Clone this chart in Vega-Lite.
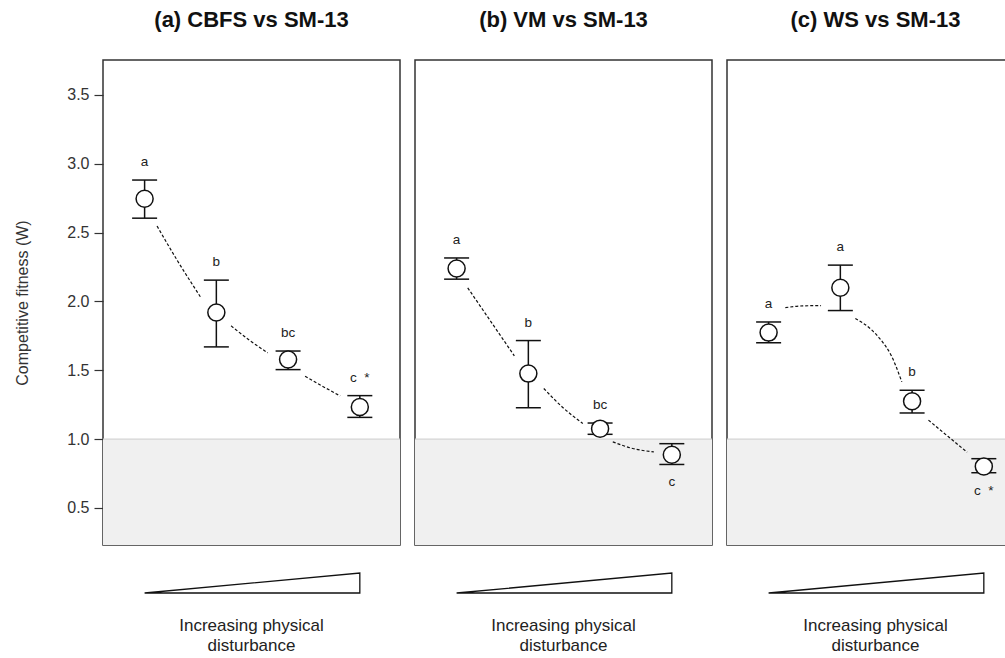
{
  "$schema": "https://vega.github.io/schema/vega-lite/v6.json",
  "padding": {"left": 14, "top": 8, "right": 0, "bottom": 0},
  "background": "white",
  "config": {
    "font": "Liberation Sans",
    "view": {"stroke": "#333333", "strokeWidth": 1.5},
    "title": {"fontSize": 22, "fontWeight": "bold", "color": "#111111", "offset": 28}
  },
  "datasets": {
    "points": [
      {"panel": "a", "x": 1, "y": 2.746, "lo": 2.605, "hi": 2.882, "label": "a", "pos": "above"},
      {"panel": "a", "x": 2, "y": 1.92, "lo": 1.67, "hi": 2.155, "label": "b", "pos": "above"},
      {"panel": "a", "x": 3, "y": 1.578, "lo": 1.505, "hi": 1.64, "label": "bc", "pos": "above"},
      {"panel": "a", "x": 4, "y": 1.233, "lo": 1.158, "hi": 1.316, "label": "c\u00a0 *", "pos": "above"},
      {"panel": "b", "x": 1, "y": 2.24, "lo": 2.162, "hi": 2.316, "label": "a", "pos": "above"},
      {"panel": "b", "x": 2, "y": 1.476, "lo": 1.228, "hi": 1.716, "label": "b", "pos": "above"},
      {"panel": "b", "x": 3, "y": 1.076, "lo": 1.035, "hi": 1.117, "label": "bc", "pos": "above"},
      {"panel": "b", "x": 4, "y": 0.887, "lo": 0.816, "hi": 0.967, "label": "c", "pos": "below"},
      {"panel": "c", "x": 1, "y": 1.774, "lo": 1.7, "hi": 1.851, "label": "a", "pos": "above"},
      {"panel": "c", "x": 2, "y": 2.1, "lo": 1.934, "hi": 2.264, "label": "a", "pos": "above"},
      {"panel": "c", "x": 3, "y": 1.275, "lo": 1.19, "hi": 1.355, "label": "b", "pos": "above"},
      {"panel": "c", "x": 4, "y": 0.802, "lo": 0.756, "hi": 0.858, "label": "c\u00a0 *", "pos": "below"}
    ],
    "curves": [
      {"panel": "a", "seg": 1, "x": 1.173, "y": 2.548},
      {"panel": "a", "seg": 1, "x": 1.452, "y": 2.301},
      {"panel": "a", "seg": 1, "x": 1.777, "y": 2.034},
      {"panel": "a", "seg": 2, "x": 2.205, "y": 1.823},
      {"panel": "a", "seg": 2, "x": 2.46, "y": 1.719},
      {"panel": "a", "seg": 2, "x": 2.717, "y": 1.627},
      {"panel": "a", "seg": 3, "x": 3.237, "y": 1.457},
      {"panel": "a", "seg": 3, "x": 3.484, "y": 1.383},
      {"panel": "a", "seg": 3, "x": 3.726, "y": 1.314},
      {"panel": "b", "seg": 1, "x": 1.155, "y": 2.099},
      {"panel": "b", "seg": 1, "x": 1.48, "y": 1.852},
      {"panel": "b", "seg": 1, "x": 1.805, "y": 1.605},
      {"panel": "b", "seg": 2, "x": 2.215, "y": 1.368},
      {"panel": "b", "seg": 2, "x": 2.48, "y": 1.23},
      {"panel": "b", "seg": 2, "x": 2.759, "y": 1.114},
      {"panel": "b", "seg": 3, "x": 3.177, "y": 0.98},
      {"panel": "b", "seg": 3, "x": 3.456, "y": 0.932},
      {"panel": "b", "seg": 3, "x": 3.749, "y": 0.907},
      {"panel": "c", "seg": 1, "x": 1.233, "y": 1.955},
      {"panel": "c", "seg": 1, "x": 1.476, "y": 1.968},
      {"panel": "c", "seg": 1, "x": 1.731, "y": 1.97},
      {"panel": "c", "seg": 2, "x": 2.209, "y": 1.877},
      {"panel": "c", "seg": 2, "x": 2.428, "y": 1.797},
      {"panel": "c", "seg": 2, "x": 2.568, "y": 1.719},
      {"panel": "c", "seg": 2, "x": 2.707, "y": 1.61},
      {"panel": "c", "seg": 2, "x": 2.857, "y": 1.416},
      {"panel": "c", "seg": 3, "x": 3.228, "y": 1.138},
      {"panel": "c", "seg": 3, "x": 3.498, "y": 1.021},
      {"panel": "c", "seg": 3, "x": 3.767, "y": 0.905}
    ],
    "wedge": [
      {"x": 1, "y": 0},
      {"x": 4, "y": 1}
    ],
    "ref": [
      {"threshold": 1}
    ]
  },
  "spacing": 11,
  "hconcat": [
    {
      "spacing": 24,
      "vconcat": [
        {
          "title": "(a) CBFS vs SM-13",
          "width": 297,
          "height": 485,
          "layer": [
            {"data": {"name": "ref"}, "mark": {"type": "rect", "color": "#f0f0f0"},
              "encoding": {
                "x": {"datum": 0.42, "type": "quantitative", "scale": {"domain": [0.42, 4.56], "nice": false, "zero": false}, "axis": null},
                "x2": {"datum": 4.56},
                "y": {"field": "threshold", "type": "quantitative", "scale": {"domain": [0.231, 3.754], "nice": false, "zero": false},
                  "axis": {"title": "Competitive fitness (W)", "values": [0.5, 1, 1.5, 2, 2.5, 3, 3.5], "format": ".1f", "domain": false, "grid": false,
                    "tickSize": 9, "tickColor": "#333333", "tickWidth": 1.2, "labelFontSize": 16, "labelColor": "#333333", "labelPadding": 5,
                    "titleFontSize": 16, "titleFontWeight": "normal", "titleColor": "#333333", "titlePadding": 36}},
                "y2": {"datum": 0.231}}},
            {"data": {"name": "ref"}, "mark": {"type": "rule", "color": "#d4d4d4", "strokeWidth": 1.2},
              "encoding": {"y": {"field": "threshold", "type": "quantitative"}}},
            {"data": {"name": "curves"}, "transform": [{"filter": "datum.panel == 'a'"}],
              "mark": {"type": "line", "color": "#111111", "strokeWidth": 1.2, "strokeDash": [3, 2], "interpolate": "monotone"},
              "encoding": {"x": {"field": "x", "type": "quantitative"}, "y": {"field": "y", "type": "quantitative"}, "detail": {"field": "seg"}}},
            {"data": {"name": "points"}, "transform": [{"filter": "datum.panel == 'a'"}],
              "layer": [
                {"mark": {"type": "rule", "color": "#111111", "strokeWidth": 1.5},
                  "encoding": {"x": {"field": "x", "type": "quantitative"}, "y": {"field": "lo", "type": "quantitative"}, "y2": {"field": "hi"}}},
                {"mark": {"type": "tick", "orient": "horizontal", "size": 25, "thickness": 1.5, "color": "#111111", "opacity": 1},
                  "encoding": {"x": {"field": "x", "type": "quantitative"}, "y": {"field": "lo", "type": "quantitative"}}},
                {"mark": {"type": "tick", "orient": "horizontal", "size": 25, "thickness": 1.5, "color": "#111111", "opacity": 1},
                  "encoding": {"x": {"field": "x", "type": "quantitative"}, "y": {"field": "hi", "type": "quantitative"}}},
                {"mark": {"type": "point", "shape": "circle", "filled": true, "fill": "white", "stroke": "#111111", "strokeWidth": 1.5, "size": 290, "opacity": 1},
                  "encoding": {"x": {"field": "x", "type": "quantitative"}, "y": {"field": "y", "type": "quantitative"}}},
                {"transform": [{"filter": "datum.pos == 'above'"}],
                  "mark": {"type": "text", "fontSize": 13.5, "color": "#222222", "baseline": "alphabetic", "dy": -14},
                  "encoding": {"x": {"field": "x", "type": "quantitative"}, "y": {"field": "hi", "type": "quantitative"}, "text": {"field": "label"}}},
                {"transform": [{"filter": "datum.pos == 'below'"}],
                  "mark": {"type": "text", "fontSize": 13.5, "color": "#222222", "baseline": "alphabetic", "dy": 22},
                  "encoding": {"x": {"field": "x", "type": "quantitative"}, "y": {"field": "lo", "type": "quantitative"}, "text": {"field": "label"}}}
              ]
            }
          ]
        },
        {
          "width": 297,
          "height": 20,
          "view": {"stroke": null},
          "title": {"text": ["Increasing physical", "disturbance"], "orient": "bottom", "fontSize": 17, "fontWeight": "normal", "color": "#222222", "lineHeight": 20, "offset": 22},
          "data": {"name": "wedge"},
          "mark": {"type": "area", "fill": "white", "stroke": "#111111", "strokeWidth": 1.3},
          "encoding": {
            "x": {"field": "x", "type": "quantitative", "scale": {"domain": [0.42, 4.56], "nice": false, "zero": false}, "axis": null},
            "y": {"field": "y", "type": "quantitative", "scale": {"domain": [0, 1], "nice": false}, "axis": null},
            "y2": {"datum": 0}
          }
        }
      ]
    },
    {
      "spacing": 24,
      "vconcat": [
        {
          "title": "(b) VM vs SM-13",
          "width": 297,
          "height": 485,
          "layer": [
            {"data": {"name": "ref"}, "mark": {"type": "rect", "color": "#f0f0f0"},
              "encoding": {
                "x": {"datum": 0.42, "type": "quantitative", "scale": {"domain": [0.42, 4.56], "nice": false, "zero": false}, "axis": null},
                "x2": {"datum": 4.56},
                "y": {"field": "threshold", "type": "quantitative", "scale": {"domain": [0.231, 3.754], "nice": false, "zero": false}, "axis": null},
                "y2": {"datum": 0.231}}},
            {"data": {"name": "ref"}, "mark": {"type": "rule", "color": "#d4d4d4", "strokeWidth": 1.2},
              "encoding": {"y": {"field": "threshold", "type": "quantitative", "axis": null}}},
            {"data": {"name": "curves"}, "transform": [{"filter": "datum.panel == 'b'"}],
              "mark": {"type": "line", "color": "#111111", "strokeWidth": 1.2, "strokeDash": [3, 2], "interpolate": "monotone"},
              "encoding": {"x": {"field": "x", "type": "quantitative", "axis": null}, "y": {"field": "y", "type": "quantitative", "axis": null}, "detail": {"field": "seg"}}},
            {"data": {"name": "points"}, "transform": [{"filter": "datum.panel == 'b'"}],
              "layer": [
                {"mark": {"type": "rule", "color": "#111111", "strokeWidth": 1.5},
                  "encoding": {"x": {"field": "x", "type": "quantitative", "axis": null}, "y": {"field": "lo", "type": "quantitative", "axis": null}, "y2": {"field": "hi"}}},
                {"mark": {"type": "tick", "orient": "horizontal", "size": 25, "thickness": 1.5, "color": "#111111", "opacity": 1},
                  "encoding": {"x": {"field": "x", "type": "quantitative", "axis": null}, "y": {"field": "lo", "type": "quantitative", "axis": null}}},
                {"mark": {"type": "tick", "orient": "horizontal", "size": 25, "thickness": 1.5, "color": "#111111", "opacity": 1},
                  "encoding": {"x": {"field": "x", "type": "quantitative", "axis": null}, "y": {"field": "hi", "type": "quantitative", "axis": null}}},
                {"mark": {"type": "point", "shape": "circle", "filled": true, "fill": "white", "stroke": "#111111", "strokeWidth": 1.5, "size": 290, "opacity": 1},
                  "encoding": {"x": {"field": "x", "type": "quantitative", "axis": null}, "y": {"field": "y", "type": "quantitative", "axis": null}}},
                {"transform": [{"filter": "datum.pos == 'above'"}],
                  "mark": {"type": "text", "fontSize": 13.5, "color": "#222222", "baseline": "alphabetic", "dy": -14},
                  "encoding": {"x": {"field": "x", "type": "quantitative", "axis": null}, "y": {"field": "hi", "type": "quantitative", "axis": null}, "text": {"field": "label"}}},
                {"transform": [{"filter": "datum.pos == 'below'"}],
                  "mark": {"type": "text", "fontSize": 13.5, "color": "#222222", "baseline": "alphabetic", "dy": 22},
                  "encoding": {"x": {"field": "x", "type": "quantitative", "axis": null}, "y": {"field": "lo", "type": "quantitative", "axis": null}, "text": {"field": "label"}}}
              ]
            }
          ]
        },
        {
          "width": 297,
          "height": 20,
          "view": {"stroke": null},
          "title": {"text": ["Increasing physical", "disturbance"], "orient": "bottom", "fontSize": 17, "fontWeight": "normal", "color": "#222222", "lineHeight": 20, "offset": 22},
          "data": {"name": "wedge"},
          "mark": {"type": "area", "fill": "white", "stroke": "#111111", "strokeWidth": 1.3},
          "encoding": {
            "x": {"field": "x", "type": "quantitative", "scale": {"domain": [0.42, 4.56], "nice": false, "zero": false}, "axis": null},
            "y": {"field": "y", "type": "quantitative", "scale": {"domain": [0, 1], "nice": false}, "axis": null},
            "y2": {"datum": 0}
          }
        }
      ]
    },
    {
      "spacing": 24,
      "vconcat": [
        {
          "title": "(c) WS vs SM-13",
          "width": 297,
          "height": 485,
          "layer": [
            {"data": {"name": "ref"}, "mark": {"type": "rect", "color": "#f0f0f0"},
              "encoding": {
                "x": {"datum": 0.42, "type": "quantitative", "scale": {"domain": [0.42, 4.56], "nice": false, "zero": false}, "axis": null},
                "x2": {"datum": 4.56},
                "y": {"field": "threshold", "type": "quantitative", "scale": {"domain": [0.231, 3.754], "nice": false, "zero": false}, "axis": null},
                "y2": {"datum": 0.231}}},
            {"data": {"name": "ref"}, "mark": {"type": "rule", "color": "#d4d4d4", "strokeWidth": 1.2},
              "encoding": {"y": {"field": "threshold", "type": "quantitative", "axis": null}}},
            {"data": {"name": "curves"}, "transform": [{"filter": "datum.panel == 'c'"}],
              "mark": {"type": "line", "color": "#111111", "strokeWidth": 1.2, "strokeDash": [3, 2], "interpolate": "monotone"},
              "encoding": {"x": {"field": "x", "type": "quantitative", "axis": null}, "y": {"field": "y", "type": "quantitative", "axis": null}, "detail": {"field": "seg"}}},
            {"data": {"name": "points"}, "transform": [{"filter": "datum.panel == 'c'"}],
              "layer": [
                {"mark": {"type": "rule", "color": "#111111", "strokeWidth": 1.5},
                  "encoding": {"x": {"field": "x", "type": "quantitative", "axis": null}, "y": {"field": "lo", "type": "quantitative", "axis": null}, "y2": {"field": "hi"}}},
                {"mark": {"type": "tick", "orient": "horizontal", "size": 25, "thickness": 1.5, "color": "#111111", "opacity": 1},
                  "encoding": {"x": {"field": "x", "type": "quantitative", "axis": null}, "y": {"field": "lo", "type": "quantitative", "axis": null}}},
                {"mark": {"type": "tick", "orient": "horizontal", "size": 25, "thickness": 1.5, "color": "#111111", "opacity": 1},
                  "encoding": {"x": {"field": "x", "type": "quantitative", "axis": null}, "y": {"field": "hi", "type": "quantitative", "axis": null}}},
                {"mark": {"type": "point", "shape": "circle", "filled": true, "fill": "white", "stroke": "#111111", "strokeWidth": 1.5, "size": 290, "opacity": 1},
                  "encoding": {"x": {"field": "x", "type": "quantitative", "axis": null}, "y": {"field": "y", "type": "quantitative", "axis": null}}},
                {"transform": [{"filter": "datum.pos == 'above'"}],
                  "mark": {"type": "text", "fontSize": 13.5, "color": "#222222", "baseline": "alphabetic", "dy": -14},
                  "encoding": {"x": {"field": "x", "type": "quantitative", "axis": null}, "y": {"field": "hi", "type": "quantitative", "axis": null}, "text": {"field": "label"}}},
                {"transform": [{"filter": "datum.pos == 'below'"}],
                  "mark": {"type": "text", "fontSize": 13.5, "color": "#222222", "baseline": "alphabetic", "dy": 22},
                  "encoding": {"x": {"field": "x", "type": "quantitative", "axis": null}, "y": {"field": "lo", "type": "quantitative", "axis": null}, "text": {"field": "label"}}}
              ]
            }
          ]
        },
        {
          "width": 297,
          "height": 20,
          "view": {"stroke": null},
          "title": {"text": ["Increasing physical", "disturbance"], "orient": "bottom", "fontSize": 17, "fontWeight": "normal", "color": "#222222", "lineHeight": 20, "offset": 22},
          "data": {"name": "wedge"},
          "mark": {"type": "area", "fill": "white", "stroke": "#111111", "strokeWidth": 1.3},
          "encoding": {
            "x": {"field": "x", "type": "quantitative", "scale": {"domain": [0.42, 4.56], "nice": false, "zero": false}, "axis": null},
            "y": {"field": "y", "type": "quantitative", "scale": {"domain": [0, 1], "nice": false}, "axis": null},
            "y2": {"datum": 0}
          }
        }
      ]
    }
  ]
}
